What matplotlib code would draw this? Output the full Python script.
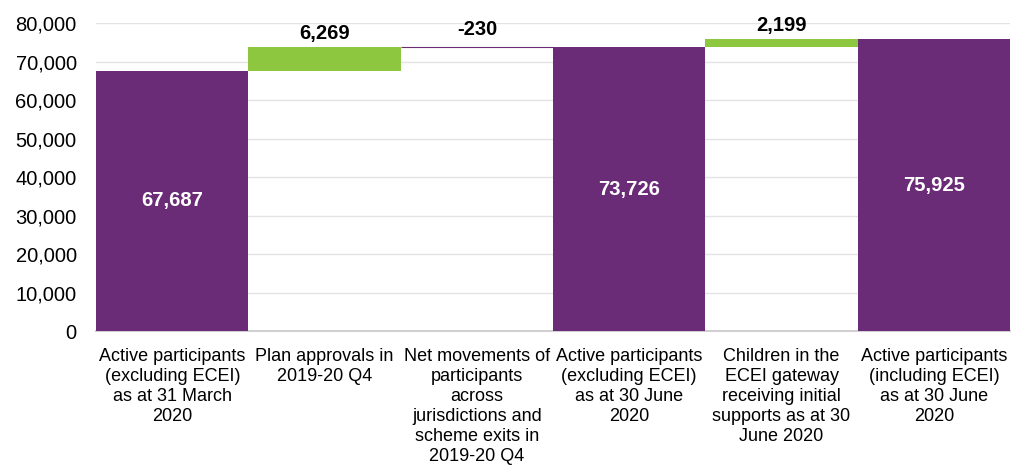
import matplotlib.pyplot as plt
import numpy as np

plt.rcParams['font.family'] = ['Liberation Sans', 'DejaVu Sans']

# Data
categories = ['Active participants\n(excluding ECEI)\nas at 31 March\n2020',
              'Plan approvals in\n2019-20 Q4',
              'Net movements of\nparticipants\nacross\njurisdictions and\nscheme exits in\n2019-20 Q4',
              'Active participants\n(excluding ECEI)\nas at 30 June\n2020',
              'Children in the\nECEI gateway\nreceiving initial\nsupports as at 30\nJune 2020',
              'Active participants\n(including ECEI)\nas at 30 June\n2020']
values = [67687, 6269, -230, 73726, 2199, 75925]
is_total = [True, False, False, True, False, True]

purple = '#6B2C77'
green = '#8DC63F'

# Compute waterfall bottoms
bottoms = []
heights = []
colors = []
running = 0
for v, tot in zip(values, is_total):
    if tot:
        bottoms.append(0)
        heights.append(v)
        colors.append(purple)
        running = v
    else:
        if v >= 0:
            bottoms.append(running)
            heights.append(v)
            colors.append(green)
        else:
            bottoms.append(running + v)
            heights.append(-v)
            colors.append(purple)
        running += v

fig = plt.figure(figsize=(10.12, 4.65), dpi=100)
ax = fig.add_axes([0.095, 0.288, 0.903, 0.662])
x = np.arange(len(values))
bars = ax.bar(x, heights, bottom=bottoms, width=1.0, color=colors, zorder=3)
# the small negative step is only a sliver, outline it so it shows
for b, v in zip(bars, values):
    if v < 0:
        b.set_edgecolor(purple)
        b.set_linewidth(0.8)

for i, (v, b, h, tot) in enumerate(zip(values, bottoms, heights, is_total)):
    if tot:
        ax.text(i, v / 2, f'{v:,}', ha='center', va='center', color='white',
                fontsize=14.5, fontweight='bold', zorder=4)
    else:
        off = 2000 if v < 0 else 900
        ax.text(i, b + h + off, f'{v:,}', ha='center', va='bottom', color='black',
                fontsize=14.5, fontweight='bold', zorder=4)

ax.set_ylim(0, 80000)
ax.set_xlim(-0.5, len(values) - 0.5)
ax.set_yticks(range(0, 80001, 10000))
ax.yaxis.set_major_formatter(plt.FuncFormatter(lambda v, p: f'{int(v):,}'))
ax.set_xticks(x)
ax.set_xticklabels(categories, fontsize=13, linespacing=1.24)
ax.tick_params(axis='y', labelsize=14.5, length=0, pad=14)
ax.tick_params(axis='x', length=0, pad=12)
ax.grid(axis='y', color='#e3e3e3', linewidth=1, zorder=0)
for s in ['top', 'right', 'left']:
    ax.spines[s].set_visible(False)
ax.spines['bottom'].set_color('#d0d0d0')
ax.spines['bottom'].set_linewidth(1.5)

fig.savefig('out.png', dpi=100)
